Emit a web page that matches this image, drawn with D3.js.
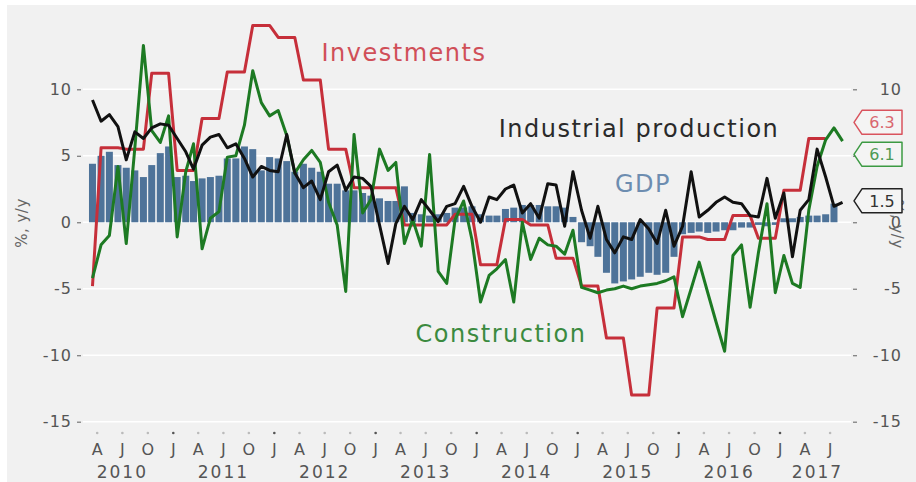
<!DOCTYPE html>
<html><head><meta charset="utf-8">
<script src="https://cdn.jsdelivr.net/npm/d3@7"></script>
<style>body{margin:0;background:#fff}svg{display:block}</style>
</head><body>
<svg id="chart" width="916" height="482"></svg>
<script>
// ---- DATA (monthly, first value = March 2010) ----
const firstMonth = [2010, 2]; // year, month index (0 = Jan)
const gdp = [4.4,5.0,5.3,4.3,4.1,3.9,3.4,4.3,5.2,5.7,
  3.4,3.5,3.1,3.3,3.4,3.5,4.8,4.8,5.7,5.5,3.9,4.9,
  4.8,4.6,3.8,4.4,4.1,3.8,2.9,2.9,2.4,2.4,2.2,2.0,
  1.8,1.6,1.6,2.7,0.7,0.6,0.5,0.6,0.7,1.1,1.1,1.2,
  0.6,0.5,0.5,1.0,1.1,1.3,1.3,1.3,1.2,1.2,1.1,0.4,
  -1.5,-1.8,-2.6,-3.8,-4.6,-4.45,-4.3,-4.1,-3.8,-3.95,-3.8,-2.6,
  -0.9,-0.8,-0.7,-0.8,-0.7,-0.6,-0.6,-0.4,-0.4,-0.2,-0.3,-0.2,
  0.3,0.3,0.4,0.5,0.5,0.6,1.4];
const investments = [-4.8,5.6,5.6,5.6,5.5,5.5,5.5,11.2,11.2,11.2,
  3.9,3.9,3.9,7.8,7.8,7.8,11.3,11.3,11.3,14.8,14.8,14.8,
  13.9,13.9,13.9,10.7,10.7,10.7,5.5,5.5,5.5,2.6,2.6,2.6,
  2.6,2.6,2.6,-0.2,-0.2,-0.2,-0.2,-0.2,-0.2,0.6,0.6,0.6,
  -3.2,-3.2,-3.2,0.2,0.2,0.2,-0.2,-0.2,-0.2,-2.7,-2.7,-2.7,
  -4.8,-4.8,-4.8,-8.7,-8.7,-8.7,-13.0,-13.0,-13.0,-6.45,-6.45,-6.45,
  -1.1,-1.1,-1.1,-1.3,-1.3,-1.3,0.5,0.5,0.5,-1.2,-1.2,-1.2,
  2.4,2.4,2.4,6.3,6.3,6.3];
const construction = [-4.2,-1.7,-1.0,4.2,-1.6,5.6,13.3,6.9,6.0,8.0,
  -1.1,3.8,5.9,-2.0,0.3,0.8,4.9,5.0,7.3,11.4,9.0,8.0,
  8.4,6.5,3.7,4.7,5.4,4.5,1.5,-0.2,-5.2,6.6,0.7,1.7,
  5.5,3.9,4.5,-1.6,0.2,-1.8,5.1,-3.7,-4.6,0.2,1.6,-1.3,
  -6.0,-4.0,-3.5,-2.8,-6.0,0.0,-2.8,-1.2,-1.7,-1.8,-2.4,-0.6,
  -4.9,-5.1,-5.3,-5.1,-5.0,-4.8,-5.0,-4.8,-4.7,-4.6,-4.4,-4.1,
  -7.1,-5.0,-3.0,-5.3,-7.5,-9.7,-2.5,-1.7,-6.4,-2.3,1.4,-5.3,
  -2.5,-4.6,-4.9,0.9,4.2,6.2,7.1,6.1];
const industrial = [9.2,7.6,8.1,7.2,4.7,6.8,6.3,7.1,7.4,7.3,
  6.3,5.3,4.0,5.8,6.4,6.6,5.6,5.9,4.8,3.4,4.2,3.9,
  3.8,6.6,3.7,2.6,3.1,1.7,3.8,4.3,2.4,3.4,3.3,2.7,
  -0.2,-3.1,-0.1,1.2,0.2,1.7,0.9,0.05,1.2,1.4,2.7,1.2,
  0.0,1.9,1.7,2.5,2.8,0.7,1.4,0.3,2.9,2.8,-0.3,3.8,
  0.9,-1.2,1.2,-1.3,-2.3,-1.1,-1.3,0.2,-0.5,-1.6,0.9,-1.8,
  -0.3,3.8,0.4,0.9,1.5,1.9,1.5,1.4,0.5,0.4,3.3,0.3,
  2.2,-2.6,0.9,1.7,5.5,3.4,1.2,1.5];
const yTickValues = [10,5,0,-5,-10,-15];
const rightTickLabels = ["10","","0","-5","-10","-15"];
const monthLetters = ["J","F","M","A","M","J","J","A","S","O","N","D"];
const yearLabels = ["2010","2011","2012","2013","2014","2015","2016","2017"];
const seriesNames = ["Investments","Construction","Industrial production","GDP"];

// ---- LAYOUT ----
const svg = d3.select("#chart");
const W = 916, H = 482;
const colors = {inv:"#c62f3a", con:"#1d7a23", ind:"#111111", gdp:"#4e7399"};

svg.append("rect").attr("x",7).attr("y",5).attr("width",W-7).attr("height",H-5).attr("fill","#f1f1f1");

const dates = industrial.map((_, i) => new Date(firstMonth[0], firstMonth[1] + i, 15));
const x = d3.scaleTime().domain([new Date(2011,0,1), new Date(2017,0,1)]).range([173.3, 780]);
const y = d3.scaleLinear().domain([-15, 10]).range([421.7, 89.3]);
const gx0 = 83, gx1 = 851;

// grid
svg.append("g").selectAll("line").data(yTickValues).join("line")
  .attr("x1", gx0).attr("x2", gx1).attr("y1", d => y(d)).attr("y2", d => y(d))
  .attr("stroke", "#ffffff").attr("stroke-width", 1.6);

// left axis
const fontAxis = "'DejaVu Sans', Verdana, sans-serif";
const leftAxis = d3.axisLeft(y).tickValues(yTickValues).tickSize(4).tickPadding(5).tickFormat(d3.format("d"));
const gL = svg.append("g").attr("transform", "translate(81,0)").call(leftAxis);
gL.select(".domain").remove();
gL.selectAll(".tick line").attr("stroke", "#777").attr("stroke-width", 1.2);
gL.selectAll(".tick text").attr("fill", "#555").attr("font-size", 16).attr("font-family", fontAxis)
  .attr("letter-spacing", 1).text(d => d < 0 ? "-" + Math.abs(d) : d);

// right axis
const rightAxis = d3.axisRight(y).tickValues(yTickValues).tickSize(4).tickPadding(0)
  .tickFormat((d, i) => rightTickLabels[i]);
const gR = svg.append("g").attr("transform", "translate(853,0)").call(rightAxis);
gR.select(".domain").remove();
gR.selectAll(".tick line").attr("stroke", "#777").attr("stroke-width", 1.2);
gR.selectAll(".tick text").attr("fill", "#555").attr("font-size", 16).attr("font-family", fontAxis)
  .attr("letter-spacing", 1).attr("text-anchor", "end").attr("x", 49);

// axis titles
svg.append("text").attr("transform", "translate(27,223) rotate(-90)").attr("text-anchor", "middle")
  .attr("font-family", fontAxis).attr("font-size", 15).attr("fill", "#666").attr("letter-spacing", 0.5).text("%, y/y");
svg.append("text").attr("transform", "translate(892,224) rotate(90)").attr("text-anchor", "middle")
  .attr("font-family", fontAxis).attr("font-size", 15).attr("fill", "#666").attr("letter-spacing", 0.5).text("%, y/y");

// x axis (quarterly ticks)
const qTicks = d3.timeMonths(new Date(2010,3,1), new Date(2017,7,1), 3);
const gX = svg.append("g");
gX.selectAll("circle").data(qTicks).join("circle")
  .attr("cx", d => x(d)).attr("cy", 433).attr("r", 1.3)
  .attr("fill", d => d.getMonth() === 0 ? "#555" : "#bbb");
gX.selectAll("text.m").data(qTicks).join("text").attr("class", "m")
  .attr("x", d => x(d)).attr("y", 455).attr("text-anchor", "middle")
  .attr("font-family", fontAxis).attr("font-size", 16).attr("fill", "#555")
  .text(d => monthLetters[d.getMonth()]);
gX.selectAll("text.y").data(yearLabels).join("text").attr("class", "y")
  .attr("x", d => { const yr = +d; return yr < 2017 ? x(new Date(yr,6,1)) : (x(new Date(yr,3,1)) + x(new Date(yr,6,1))) / 2; })
  .attr("y", 478).attr("text-anchor", "middle")
  .attr("font-family", fontAxis).attr("font-size", 17).attr("letter-spacing", 2).attr("fill", "#555")
  .text(d => d);

// GDP bars
svg.append("g").selectAll("rect").data(gdp).join("rect")
  .attr("x", (d, i) => x(dates[i]) - 3.5).attr("width", 7)
  .attr("y", d => Math.min(y(d), y(0))).attr("height", d => Math.abs(y(d) - y(0)))
  .attr("fill", colors.gdp);

// lines
const line = d3.line().x(d => x(d[0])).y(d => y(d[1]));
function drawLine(values, color) {
  svg.append("path").datum(values.map((v, i) => [dates[i], v]))
    .attr("d", line).attr("fill", "none").attr("stroke", color)
    .attr("stroke-width", 3).attr("stroke-linejoin", "round");
}
drawLine(investments, colors.inv);
drawLine(construction, colors.con);
drawLine(industrial, colors.ind);

// series labels
const labelFont = "'DejaVu Sans', Verdana, sans-serif";
const labels = [
  {t: seriesNames[0], x: 404, y: 61, c: "#d04f58"},
  {t: seriesNames[2], x: 639, y: 137, c: "#2a2a2a"},
  {t: seriesNames[3], x: 643, y: 192, c: "#6d8db0"},
  {t: seriesNames[1], x: 501, y: 342, c: "#3b8a3f"}
];
svg.append("g").selectAll("text").data(labels).join("text")
  .attr("x", d => d.x).attr("y", d => d.y).attr("text-anchor", "middle")
  .attr("font-family", labelFont).attr("font-size", 24).attr("letter-spacing", 1.5)
  .attr("fill", d => d.c).text(d => d.t);

// end-value tags
const ends = [
  {v: investments[investments.length - 1], stroke: "#d9535d", text: "#d9676f"},
  {v: construction[construction.length - 1], stroke: "#3c9a43", text: "#4f9a55"},
  {v: industrial[industrial.length - 1], stroke: "#222", text: "#333"}
].map(d => ({...d, py: y(d.v) - 1.5}));
ends.sort((a, b) => a.py - b.py);
for (let k = 0; k < 50; k++) {
  for (let j = 1; j < ends.length; j++) {
    const gap = ends[j].py - ends[j-1].py;
    if (gap < 32) { const m = (32 - gap) / 2; ends[j].py += m; ends[j-1].py -= m; }
  }
}
const tag = svg.append("g");
ends.forEach(d => {
  const cy = d.py, h = 24, x0 = 854, x1 = 862, x2 = 902;
  tag.append("path")
    .attr("d", `M${x0},${cy} L${x1},${cy - h/2} L${x2},${cy - h/2} L${x2},${cy + h/2} L${x1},${cy + h/2} Z`)
    .attr("fill", "#f4f4f4").attr("stroke", d.stroke).attr("stroke-width", 1.5).attr("stroke-linejoin", "round");
  tag.append("text").attr("x", (x1 + x2) / 2).attr("y", cy + 6).attr("text-anchor", "middle")
    .attr("font-family", fontAxis).attr("font-size", 16).attr("fill", d.text).text(d.v.toFixed(1));
});
</script>
</body></html>
